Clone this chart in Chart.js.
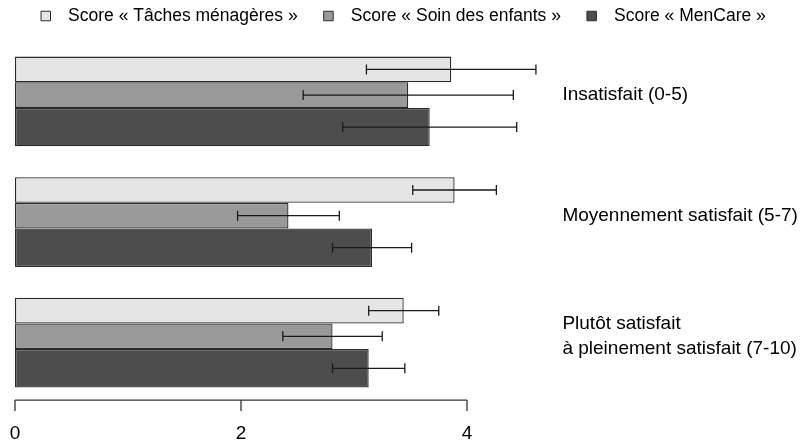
<!DOCTYPE html>
<html>
<head>
<meta charset="utf-8">
<script src="https://cdn.jsdelivr.net/npm/chart.js@4.4.0/dist/chart.umd.min.js"></script>
<style>
  body { margin: 0; background: #fff; }
  #wrap { width: 803px; height: 445px; }
</style>
</head>
<body>
<div id="wrap"><canvas id="myChart"></canvas></div>
<script>
const categories = ['Insatisfait (0-5)', 'Moyennement satisfait (5-7)', ['Plutôt satisfait', 'à pleinement satisfait (7-10)']]
const seriesNames = ['Score « Tâches ménagères »', 'Score « Soin des enfants »', 'Score « MenCare »']
const menageres = [3.86, 3.89, 3.44]
const menageresErr = [0.75, 0.37, 0.31]
const enfants = [3.48, 2.42, 2.81]
const enfantsErr = [0.93, 0.45, 0.44]
const mencare = [3.67, 3.16, 3.13]
const mencareErr = [0.77, 0.35, 0.32]
const xTicks = [0, 2, 4]

const font = "'Liberation Sans', Arial, sans-serif"

// error bars drawn on top of the bars, from the x scale
const errorBars = {
    id: 'errorBars',
    afterDatasetsDraw(chart) {
        const ctx = chart.ctx
        const x = chart.scales.x
        ctx.save()
        ctx.strokeStyle = '#1a1a1a'
        ctx.lineWidth = 1.3
        chart.data.datasets.forEach((ds, i) => {
            chart.getDatasetMeta(i).data.forEach((bar, j) => {
                const lo = x.getPixelForValue(ds.data[j] - ds.errors[j])
                const hi = x.getPixelForValue(ds.data[j] + ds.errors[j])
                const y = bar.y
                ctx.beginPath()
                ctx.moveTo(lo, y); ctx.lineTo(hi, y)
                ctx.moveTo(lo, y - 5); ctx.lineTo(lo, y + 5)
                ctx.moveTo(hi, y - 5); ctx.lineTo(hi, y + 5)
                ctx.stroke()
            })
        })
        ctx.restore()
    }
}

// R style axis: line only from first to last tick
const bottomAxis = {
    id: 'bottomAxis',
    afterDraw(chart) {
        const ctx = chart.ctx
        const x = chart.scales.x
        const y = chart.chartArea.bottom + 3.5
        const first = x.getPixelForValue(xTicks[0])
        const last = x.getPixelForValue(xTicks[xTicks.length - 1])
        ctx.save()
        ctx.strokeStyle = '#333'
        ctx.lineWidth = 1.3
        ctx.beginPath()
        ctx.moveTo(first, y); ctx.lineTo(last, y)
        xTicks.forEach(v => {
            const px = x.getPixelForValue(v)
            ctx.moveTo(px, y); ctx.lineTo(px, y + 11)
        })
        ctx.stroke()
        ctx.restore()
    }
}

const barStyle = {
    borderColor: '#2b2b2b',
    borderWidth: 1.3,
    borderSkipped: false
}

const data = {
    labels: categories,
    datasets: [
        { ...barStyle, label: seriesNames[0], data: menageres, errors: menageresErr,
          backgroundColor: '#e5e5e5', categoryPercentage: 0.638, barPercentage: 1 },
        { ...barStyle, label: seriesNames[1], data: enfants, errors: enfantsErr,
          backgroundColor: '#999999', categoryPercentage: 0.638, barPercentage: 1 },
        { ...barStyle, label: seriesNames[2], data: mencare, errors: mencareErr,
          backgroundColor: '#4d4d4d', categoryPercentage: 0.797, barPercentage: 1.2 }
    ]
}

let myChart = document.getElementById('myChart').getContext('2d')
let chart = new Chart(myChart, {
    type: 'bar',
    data: data,
    plugins: [errorBars, bottomAxis],
    options: {
        indexAxis: 'y',
        responsive: true,
        maintainAspectRatio: false,
        animation: false,
        layout: { padding: { top: -14.75, left: 15, right: 0, bottom: 0 } },
        plugins: {
            tooltip: { enabled: false },
            legend: {
                position: 'top',
                align: 'start',
                labels: {
                    color: '#000',
                    font: { family: font, size: 17.5 },
                    usePointStyle: true,
                    pointStyle: 'rect',
                    boxWidth: 17.5,
                    boxHeight: 9.5,
                    padding: 22,
                    generateLabels: (c) => Chart.defaults.plugins.legend.labels.generateLabels(c)
                        .map(item => ({ ...item, text: ' ' + item.text, lineWidth: 1 }))
                }
            }
        },
        scales: {
            x: {
                min: 0,
                max: 4.8,
                afterBuildTicks: (scale) => { scale.ticks = xTicks.map(v => ({ value: v })) },
                afterFit: (scale) => {
                    scale.height = 48.4
                    scale.paddingLeft = 0
                    scale.paddingRight = 0
                },
                grid: { display: false, drawTicks: false },
                border: { display: false },
                ticks: {
                    color: '#000',
                    font: { family: font, size: 19 },
                    padding: 26
                }
            },
            y: {
                position: 'right',
                afterFit: (scale) => { scale.width = 245.6 },
                grid: { display: false, drawTicks: false },
                border: { display: false },
                ticks: {
                    color: '#000',
                    font: { family: font, size: 19, lineHeight: 1.3 },
                    padding: 5
                }
            }
        }
    }
})
</script>
</body>
</html>
